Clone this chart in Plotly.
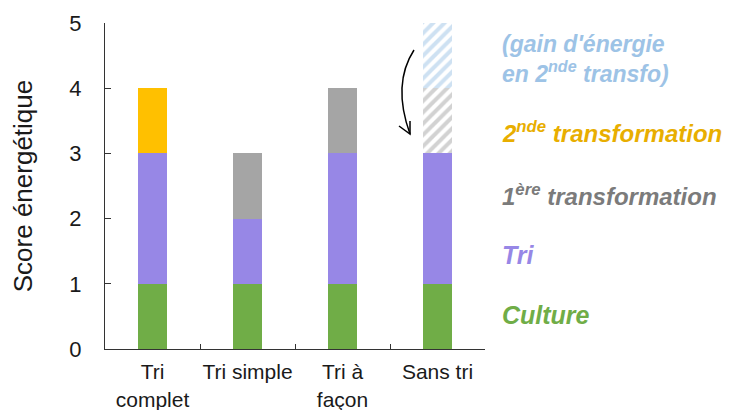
import plotly.graph_objects as go

categories = ["Tri<br>complet", "Tri simple", "Tri à<br>façon", "Sans tri"]
culture = [1, 1, 1, 1]
tri = [2, 1, 2, 2]
transfo1 = [0, 1, 1, 0]
transfo2 = [1, 0, 0, 0]
transfo1_hatched = [0, 0, 0, 1]
gain_hatched = [0, 0, 0, 1]
y_ticks = [0, 1, 2, 3, 4, 5]

GREEN = "#70AD47"
PURPLE = "#9787E6"
GOLD = "#FFC000"
GRAY = "#A5A5A5"
LIGHTBLUE = "#9DC3E6"

# the page body has an 8px default margin, so the figure is offset by 8px
OFF = 8
W, H = 735 - OFF, 410 - OFF
L, R, T, B = 105 - OFF, 250, 23 - OFF, 61
PW, PH = W - L - R, H - T - B
FONT = "Liberation Sans, Arial"


def px2paper(px, py):
    # px, py are window pixel coordinates
    return (px - OFF - L) / PW, (H - B - (py - OFF)) / PH


fig = go.Figure()
fig.add_bar(x=categories, y=culture, marker=dict(color=GREEN, line_width=0))
fig.add_bar(x=categories, y=tri, marker=dict(color=PURPLE, line_width=0))
fig.add_bar(x=categories, y=transfo1, marker=dict(color=GRAY, line_width=0))
fig.add_bar(x=categories, y=transfo2, marker=dict(color=GOLD, line_width=0))
fig.add_bar(x=categories, y=transfo1_hatched,
            marker=dict(color="white", line_width=0,
                        pattern=dict(shape="/", fgcolor=GRAY, bgcolor="white",
                                     size=8, solidity=0.5)))
fig.add_bar(x=categories, y=gain_hatched,
            marker=dict(color="white", line_width=0,
                        pattern=dict(shape="/", fgcolor=LIGHTBLUE, bgcolor="white",
                                     size=8, solidity=0.5)))

# curved arrow
p0 = px2paper(414, 50)
c = px2paper(392, 84)
p2 = px2paper(410, 134)
path = f"M {p0[0]},{p0[1]} Q {c[0]},{c[1]} {p2[0]},{p2[1]}"
fig.add_shape(type="path", path=path, xref="paper", yref="paper",
              line=dict(color="black", width=1.5))
w1 = px2paper(399, 126)
w2 = px2paper(410, 121)
head = f"M {w1[0]},{w1[1]} L {p2[0]},{p2[1]} L {w2[0]},{w2[1]}"
fig.add_shape(type="path", path=head, xref="paper", yref="paper",
              line=dict(color="black", width=1.5))

labels = [
    ("(gain d'énergie<br>en 2<sup>nde</sup> transfo)", LIGHTBLUE, 59, 23),
    ("2<sup>nde</sup> transformation", "#E8AE00", 132, 24),
    ("1<sup>ère</sup> transformation", "#7B7B7B", 195, 24),
    ("Tri", PURPLE, 255, 25),
    ("Culture", GREEN, 315, 25),
]
for txt, col, ypx, fs in labels:
    xp, yp = px2paper(500, ypx)
    fig.add_annotation(text=f"<b><i>{txt}</i></b>", x=xp, xref="paper",
                       y=yp, yref="paper", xanchor="left", yanchor="middle",
                       showarrow=False, align="left",
                       font=dict(family=FONT, size=fs, color=col))

fig.update_layout(
    barmode="stack",
    bargap=0.69,
    width=W, height=H,
    margin=dict(l=L, r=R, t=T, b=B),
    paper_bgcolor="white", plot_bgcolor="white",
    showlegend=False,
    font=dict(family=FONT, color="#1a1a1a"),
)
fig.update_yaxes(range=[0, 5], tickvals=y_ticks, ticks="inside", ticklen=6,
                 tickcolor="#333", showline=True, linecolor="#333", linewidth=1,
                 showgrid=False, zeroline=False, automargin=False,
                 ticklabelstandoff=18,
                 tickfont=dict(size=22), title=dict(text="Score énergétique",
                                                    font=dict(size=26), standoff=33))
fig.update_xaxes(ticks="inside", tickson="boundaries", ticklen=5, tickcolor="#333",
                 showline=True, linecolor="#333", linewidth=1, showgrid=False,
                 automargin=False, ticklabelstandoff=4, tickangle=0,
                 tickfont=dict(size=21))

fig.write_html("out.html")
